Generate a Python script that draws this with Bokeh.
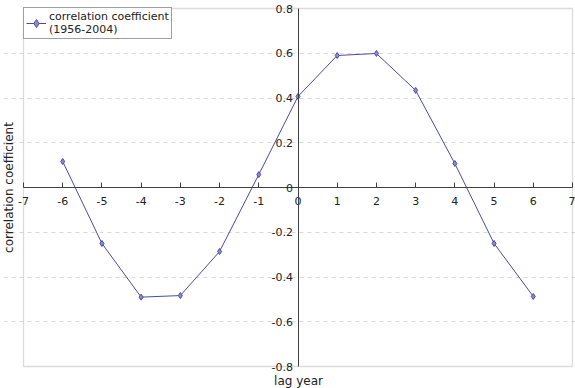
from bokeh.plotting import figure
from bokeh.models import (Range1d, FixedTicker, LinearAxis, Legend, LegendItem,
                          Label, BoxAnnotation)
from bokeh.embed import file_html
from bokeh.resources import INLINE

# Lagged correlation between the two series, lags -6..6 years
lag_years = [-6, -5, -4, -3, -2, -1, 0, 1, 2, 3, 4, 5, 6]
corr_coef = [0.116, -0.250, -0.490, -0.483, -0.286, 0.058, 0.407,
             0.590, 0.599, 0.434, 0.107, -0.250, -0.487]
x_ticks = list(range(-7, 8))
y_ticks = [-0.8, -0.6, -0.4, -0.2, 0, 0.2, 0.4, 0.6, 0.8]
grid_levels = [-0.6, -0.4, -0.2, 0.2, 0.4, 0.6]
series_name = "correlation coefficient\n(1956-2004)"

X_MIN, X_MAX = -7, 7
Y_MIN, Y_MAX = -0.8, 0.8

FONT = "DejaVu Sans"
LINE_COLOR = "#4a4aa8"
TEXT_COLOR = "#222222"

# pixel layout of the plotting box inside the 575x388 canvas
W, H = 575, 388
BOX_L, BOX_R, BOX_T, BOX_B = 23, 572, 8, 366
FRAME_L = 3
px_per_x = (BOX_R - BOX_L) / (X_MAX - X_MIN)
px_per_y = (BOX_B - BOX_T) / (Y_MAX - Y_MIN)
x_range = Range1d(X_MIN - (BOX_L - FRAME_L) / px_per_x, X_MAX + (W - BOX_R) / px_per_x)
y_range = Range1d(Y_MIN - (H - BOX_B) / px_per_y, Y_MAX + BOX_T / px_per_y)

p = figure(width=W, height=H, output_backend="svg", toolbar_location=None,
           x_range=x_range, y_range=y_range,
           min_border_left=FRAME_L, min_border_right=0, min_border_top=0,
           min_border_bottom=0, x_axis_location=None, y_axis_location=None)
p.outline_line_color = None
p.background_fill_color = "white"
p.border_fill_color = "white"

# plotting box outline
p.add_layout(BoxAnnotation(left=X_MIN, right=X_MAX, bottom=Y_MIN, top=Y_MAX,
                           fill_color=None, line_color="#8a8a8a", line_width=1.3,
                           level="underlay"))

# axes crossing at the origin
xax = LinearAxis(fixed_location=0, ticker=FixedTicker(ticks=x_ticks),
                 bounds=(X_MIN, X_MAX))
xax.major_tick_in = 5
xax.major_tick_out = 0
xax.minor_tick_line_color = None
xax.axis_line_color = "#404040"
xax.major_tick_line_color = "#404040"
xax.major_label_text_font = FONT
xax.major_label_text_font_size = "11px"
xax.major_label_text_color = TEXT_COLOR
xax.major_label_standoff = 9
xax.major_label_overrides = {t: str(t) for t in x_ticks}
p.add_layout(xax, "below")

yax = LinearAxis(fixed_location=0, ticker=FixedTicker(ticks=y_ticks),
                 bounds=(Y_MIN, Y_MAX))
yax.major_tick_in = 0
yax.major_tick_out = 0
yax.minor_tick_line_color = None
yax.axis_line_color = "#404040"
yax.major_label_text_font = FONT
yax.major_label_text_font_size = "11px"
yax.major_label_text_color = TEXT_COLOR
yax.major_label_standoff = 5
yax.major_label_overrides = {t: ("0" if t == 0 else f"{t:.1f}") for t in y_ticks}
p.add_layout(yax, "left")

p.xgrid.visible = False
p.ygrid.ticker = FixedTicker(ticks=grid_levels)
p.ygrid.bounds = (X_MIN, X_MAX)
p.ygrid.grid_line_color = "#d8d8d8"
p.ygrid.grid_line_dash = "4 4"

line = p.line(lag_years, corr_coef, line_color=LINE_COLOR, line_width=1)
pts = p.scatter(lag_years, corr_coef, marker="diamond", size=6,
                line_color=LINE_COLOR, fill_color="#8c8cd0", line_width=1)

legend = Legend(items=[LegendItem(label=series_name, renderers=[line, pts])],
                location=(BOX_L - FRAME_L, H - 39), margin=0, padding=2,
                spacing=0, glyph_width=20, label_text_font=FONT,
                label_text_font_size="11px", label_standoff=3,
                label_text_color=TEXT_COLOR,
                border_line_color="#404040", border_line_width=1,
                label_height=12, label_text_line_height=1.15)
p.add_layout(legend, "center")

# axis titles placed at the canvas edges (screen units are frame-relative)
p.add_layout(Label(x=1 - FRAME_L, y=H - 187, x_units="screen", y_units="screen",
                   text="correlation coefficient", angle=90, angle_units="deg",
                   text_font=FONT, text_font_size="12px", text_align="center",
                   text_baseline="top", text_color=TEXT_COLOR))
p.add_layout(Label(x=298 - FRAME_L, y=H - 373, x_units="screen", y_units="screen",
                   text="lag year", text_font=FONT, text_font_size="12px",
                   text_align="center", text_baseline="top",
                   text_color=TEXT_COLOR))

open("out.html", "w").write(file_html(p, INLINE))
